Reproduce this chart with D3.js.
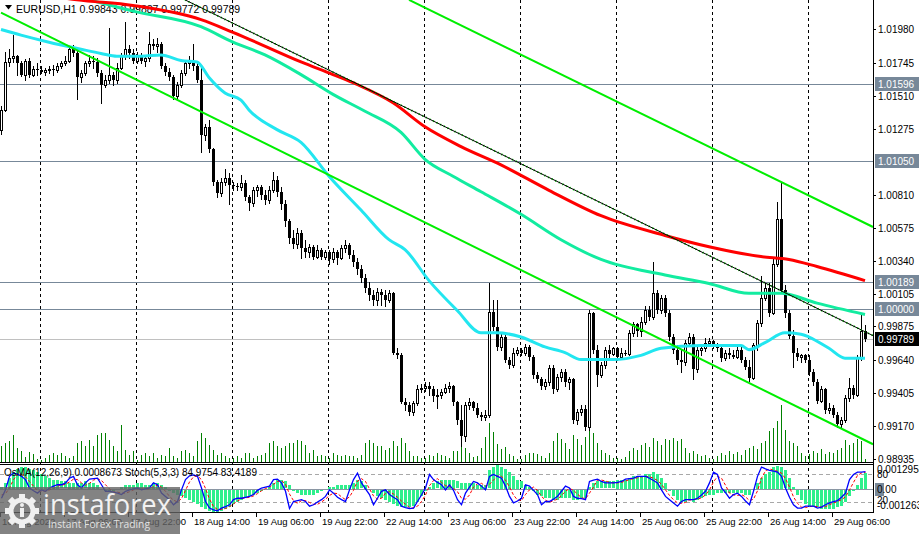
<!DOCTYPE html>
<html>
<head>
<meta charset="utf-8">
<script src="https://cdn.jsdelivr.net/npm/d3@7/dist/d3.min.js"></script>
<style>
  body { margin: 0; background: #fff; }
  svg { display: block; font-family: "Liberation Sans", Arial, sans-serif; }
</style>
</head>
<body>
<svg id="chart" width="919" height="534"></svg>
<script>
/* EURUSD H1, 16 Aug 14:00 .. 29 Aug 14:00 (bar 0 .. bar 216) */

var barOpen = [
  1.0127,1.0141,1.0175,1.0178,1.0179,1.0174,1.0166,1.0176,1.0166,1.0170,
  1.0169,1.0168,1.0169,1.0170,1.0169,1.0172,1.0174,1.0176,1.0184,1.0181,
  1.0164,1.0167,1.0174,1.0176,1.0175,1.0167,1.0159,1.0162,1.0166,1.0162,
  1.0171,1.0179,1.0184,1.0181,1.0176,1.0179,1.0176,1.0178,1.0188,1.0186,
  1.0188,1.0172,1.0168,1.0164,1.0151,1.0159,1.0167,1.0174,1.0176,1.0172,
  1.0162,1.0123,1.0129,1.0113,1.0090,1.0082,1.0090,1.0093,1.0088,1.0087,
  1.0086,1.0089,1.0079,1.0075,1.0084,1.0086,1.0081,1.0077,1.0084,1.0091,
  1.0083,1.0074,1.0062,1.0050,1.0046,1.0054,1.0043,1.0040,1.0044,1.0037,
  1.0042,1.0037,1.0040,1.0035,1.0040,1.0036,1.0043,1.0045,1.0038,1.0033,
  1.0028,1.0022,1.0015,1.0010,1.0006,1.0012,1.0010,1.0006,1.0011,0.9969,
  0.9967,0.9934,0.9932,0.9927,0.9933,0.9943,0.9944,0.9945,0.9943,0.9938,
  0.9939,0.9941,0.9944,0.9945,0.9934,0.9921,0.9910,0.9932,0.9934,0.9930,
  0.9925,0.9923,0.9925,0.9998,0.9987,0.9973,0.9980,0.9964,0.9960,0.9969,
  0.9971,0.9969,0.9973,0.9966,0.9953,0.9950,0.9945,0.9948,0.9958,0.9943,
  0.9952,0.9955,0.9948,0.9950,0.9921,0.9927,0.9929,0.9916,0.9997,0.9971,
  0.9953,0.9960,0.9971,0.9968,0.9972,0.9966,0.9969,0.9968,0.9983,0.9989,
  0.9984,0.9991,0.9999,0.9994,1.0011,0.9999,1.0008,0.9997,0.9980,0.9971,
  0.9964,0.9962,0.9976,0.9980,0.9957,0.9971,0.9972,0.9976,0.9977,0.9974,
  0.9972,0.9965,0.9969,0.9967,0.9966,0.9971,0.9964,0.9959,0.9951,0.9974,
  0.9990,1.0008,1.0015,0.9997,1.0032,1.0064,1.0013,0.9997,0.9981,0.9969,
  0.9966,0.9967,0.9964,0.9955,0.9948,0.9935,0.9943,0.9928,0.9930,0.9925,
  0.9918,0.9921,0.9937,0.9944,0.9939,0.9966,0.99843
]
var barHigh = [
  1.0144,1.0182,1.0184,1.0194,1.0180,1.0176,1.0177,1.0178,1.0172,1.0174,
  1.0172,1.0171,1.0172,1.0173,1.0174,1.0176,1.0179,1.0186,1.0187,1.0184,
  1.0169,1.0176,1.0180,1.0179,1.0178,1.0169,1.0166,1.0199,1.0168,1.0174,
  1.0181,1.0203,1.0187,1.0184,1.0182,1.0181,1.0180,1.0196,1.0191,1.0192,
  1.0189,1.0174,1.0171,1.0166,1.0161,1.0169,1.0176,1.0179,1.0188,1.0175,
  1.0173,1.0131,1.0134,1.0114,1.0091,1.0093,1.0099,1.0096,1.0090,1.0089,
  1.0095,1.0091,1.0081,1.0086,1.0088,1.0088,1.0084,1.0087,1.0097,1.0094,
  1.0086,1.0077,1.0064,1.0056,1.0057,1.0056,1.0049,1.0046,1.0045,1.0045,
  1.0043,1.0042,1.0042,1.0043,1.0042,1.0045,1.0049,1.0047,1.0042,1.0036,
  1.0031,1.0025,1.0019,1.0013,1.0015,1.0014,1.0013,1.0013,1.0012,0.9972,
  0.9969,0.9937,0.9934,0.9935,0.9946,0.9947,0.9948,0.9948,0.9945,0.9943,
  0.9943,0.9947,0.9948,0.9946,0.9935,0.9932,0.9934,0.9937,0.9935,0.9933,
  0.9927,0.9928,1.0018,1.0006,1.0006,0.9983,0.9982,0.9966,0.9972,0.9973,
  0.9972,0.9975,0.9974,0.9967,0.9955,0.9952,0.9950,0.9960,0.9960,0.9954,
  0.9957,0.9957,0.9952,0.9951,0.9929,0.9932,0.9932,0.9999,0.9998,0.9974,
  0.9962,0.9973,0.9974,0.9973,0.9973,0.9972,0.9971,0.9985,0.9991,0.9990,
  0.9994,1.0002,1.0002,1.0033,1.0013,1.0010,1.0010,0.9999,0.9982,0.9974,
  0.9971,0.9978,0.9983,0.9982,0.9973,0.9974,0.9979,0.9979,0.9978,0.9976,
  0.9973,0.9971,0.9972,0.9971,0.9973,0.9973,0.9966,0.9964,0.9976,0.9992,
  1.0023,1.0018,1.0018,1.0035,1.0076,1.0090,1.0017,0.9999,0.9985,0.9972,
  0.9968,0.9968,0.9967,0.9957,0.9950,0.9945,0.9944,0.9933,0.9932,0.9927,
  0.9923,0.9939,0.9951,0.9946,0.9967,0.9997,0.99887
]
var barLow = [
  1.0124,1.0140,1.0172,1.0175,1.0166,1.0165,1.0162,1.0164,1.0165,1.0166,
  1.0167,1.0166,1.0167,1.0166,1.0168,1.0171,1.0173,1.0175,1.0179,1.0149,
  1.0161,1.0166,1.0172,1.0171,1.0165,1.0146,1.0157,1.0160,1.0159,1.0160,
  1.0170,1.0177,1.0178,1.0174,1.0174,1.0174,1.0172,1.0176,1.0184,1.0182,
  1.0171,1.0166,1.0162,1.0149,1.0149,1.0157,1.0166,1.0171,1.0169,1.0161,
  1.0111,1.0120,1.0111,1.0088,1.0079,1.0080,1.0088,1.0074,1.0084,1.0084,
  1.0084,1.0077,1.0070,1.0073,1.0080,1.0078,1.0074,1.0075,1.0083,1.0080,
  1.0071,1.0059,1.0047,1.0043,1.0043,1.0036,1.0037,1.0037,1.0035,1.0036,
  1.0035,1.0035,1.0032,1.0033,1.0032,1.0035,1.0040,1.0036,1.0030,1.0025,
  1.0019,1.0012,1.0006,1.0003,1.0003,1.0003,1.0002,1.0005,0.9968,0.9965,
  0.9933,0.9928,0.9925,0.9925,0.9932,0.9941,0.9942,0.9939,0.9935,0.9930,
  0.9937,0.9940,0.9941,0.9932,0.9918,0.9903,0.9906,0.9929,0.9928,0.9923,
  0.9921,0.9921,0.9923,0.9985,0.9971,0.9971,0.9962,0.9958,0.9959,0.9967,
  0.9967,0.9967,0.9964,0.9951,0.9948,0.9943,0.9943,0.9946,0.9940,0.9942,
  0.9949,0.9945,0.9943,0.9919,0.9918,0.9925,0.9914,0.9914,0.9969,0.9945,
  0.9952,0.9958,0.9965,0.9967,0.9964,0.9965,0.9967,0.9967,0.9981,0.9981,
  0.9981,0.9989,0.9992,0.9993,0.9997,0.9997,0.9995,0.9978,0.9969,0.9961,
  0.9955,0.9960,0.9974,0.9950,0.9955,0.9967,0.9970,0.9974,0.9972,0.9970,
  0.9963,0.9964,0.9965,0.9965,0.9965,0.9962,0.9957,0.9949,0.9950,0.9971,
  0.9988,1.0006,0.9995,0.9996,1.0030,1.0011,0.9994,0.9979,0.9959,0.9964,
  0.9962,0.9962,0.9953,0.9946,0.9933,0.9934,0.9926,0.9926,0.9923,0.9916,
  0.9916,0.9920,0.9935,0.9937,0.9938,0.9964,0.99772
]
var barClose = [
  1.0141,1.0175,1.0178,1.0179,1.0174,1.0166,1.0176,1.0166,1.0170,1.0169,
  1.0168,1.0169,1.0170,1.0169,1.0172,1.0174,1.0176,1.0184,1.0181,1.0164,
  1.0167,1.0174,1.0176,1.0175,1.0167,1.0159,1.0162,1.0166,1.0162,1.0171,
  1.0179,1.0184,1.0181,1.0176,1.0179,1.0176,1.0178,1.0188,1.0186,1.0188,
  1.0172,1.0168,1.0164,1.0151,1.0159,1.0167,1.0174,1.0176,1.0172,1.0162,
  1.0123,1.0129,1.0113,1.0090,1.0082,1.0090,1.0093,1.0088,1.0087,1.0086,
  1.0089,1.0079,1.0075,1.0084,1.0086,1.0081,1.0077,1.0084,1.0091,1.0083,
  1.0074,1.0062,1.0050,1.0046,1.0054,1.0043,1.0040,1.0044,1.0037,1.0042,
  1.0037,1.0040,1.0035,1.0040,1.0036,1.0043,1.0045,1.0038,1.0033,1.0028,
  1.0022,1.0015,1.0010,1.0006,1.0012,1.0010,1.0006,1.0011,0.9969,0.9967,
  0.9934,0.9932,0.9927,0.9933,0.9943,0.9944,0.9945,0.9943,0.9938,0.9939,
  0.9941,0.9944,0.9945,0.9934,0.9921,0.9910,0.9932,0.9934,0.9930,0.9925,
  0.9923,0.9925,0.9998,0.9987,0.9973,0.9980,0.9964,0.9960,0.9969,0.9971,
  0.9969,0.9973,0.9966,0.9953,0.9950,0.9945,0.9948,0.9958,0.9943,0.9952,
  0.9955,0.9948,0.9950,0.9921,0.9927,0.9929,0.9916,0.9997,0.9971,0.9953,
  0.9960,0.9971,0.9968,0.9972,0.9966,0.9969,0.9968,0.9983,0.9989,0.9984,
  0.9991,0.9999,0.9994,1.0011,0.9999,1.0008,0.9997,0.9980,0.9971,0.9964,
  0.9962,0.9976,0.9980,0.9957,0.9971,0.9972,0.9976,0.9977,0.9974,0.9972,
  0.9965,0.9969,0.9967,0.9966,0.9971,0.9964,0.9959,0.9951,0.9974,0.9990,
  1.0008,1.0015,0.9997,1.0032,1.0064,1.0013,0.9997,0.9981,0.9969,0.9966,
  0.9967,0.9964,0.9955,0.9948,0.9935,0.9943,0.9928,0.9930,0.9925,0.9918,
  0.9921,0.9937,0.9944,0.9939,0.9966,0.9984,0.99789
]
// tick volume, hundreds of ticks
var tickVolume = [
  17,20,22,28,15,12,6,11,9,4,
  3,5,8,10,8,10,7,5,7,20,22,17,23,17,28,30,30,23,17,12,38,13,8,12,
  3,8,10,7,10,5,8,7,15,7,5,12,13,10,7,22,30,25,18,13,8,10,7,5,
  5,7,5,10,10,5,7,8,10,20,22,17,15,17,20,20,23,22,18,10,13,7,8,7,
  5,10,8,7,8,7,7,5,8,20,23,20,17,17,13,15,22,17,25,20,12,7,7,5,
  5,8,7,10,8,7,5,12,12,28,15,10,6,7,15,26,40,31,19,14,16,9,7,4,
  4,8,10,10,9,7,5,10,22,30,24,20,14,28,24,18,26,37,30,20,13,10,8,5,
  5,4,6,12,15,13,18,20,16,25,22,18,24,23,25,22,24,15,10,12,9,7,8,5,
  4,7,10,8,12,9,11,8,13,15,17,14,20,22,32,35,42,58,33,22,20,17,10,7,
  9,12,10,14,9,11,10,13,15,23,18,20,24,22,4
]
// OsMA(12,26,9), in units of 0.0001
var osma = [
  1,3,6,9,11,12,12,11,10,9,
  8,7,6,5,5,4,4,3,3,3,
  3,4,3,3,2,0,-1,-1,-1,0,
  1,2,2,2,3,3,2,2,3,3,
  2,1,-1,-2,-3,-4,-5,-6,-7,-8,
  -10,-11,-12,-12.6,-12.63,-12,-11,-10,-8,-7,
  -6,-5,-4,-3,-2,-1,0,1,3,5,
  5,4,2,-1,-2,-3,-3,-3,-3,-2,
  -1,0,1,1,2,2,2,2,3,5,
  4,2,0,-2,-4,-5,-6,-7,-8,-9,
  -10,-10,-10,-9,-7,-4,-1,1,3,4,
  5,5,5,5,4,3,3,3,3,2,
  2,2,10,12,12.953,12,11,9,7,5,
  4,2,1,-1,-3,-4,-5,-5,-6,-6,
  -5,-5,-5,-6,-6,-5,-5,1,3,4,
  4,4,4,4,5,5,5,6,7,7,
  7,8,8,9,8,6,3,-1,-4,-6,
  -7,-7,-6,-7,-6,-5,-4,-3,-3,-2,
  -2,-2,-2,-2,-2,-2,-3,-3,0,3,
  6,8,9,12,12.5,12,10,6,1,-3,
  -6,-8,-9,-10,-10,-11,-11,-11,-11,-10,
  -9,-7,-4,-1,2,6,8.673
]
var stochMain = [
  28,46,75,82,80,75,68,50,44,39,
  46,43,50,54,57,57,61,71,75,57,
  50,61,69,70,71,57,43,43,41,39,
  36,43,46,48,50,46,48,50,61,57,
  39,32,25,14,21,46,68,76,78,75,
  50,21,7,3,1,7,10,14,25,28,
  28,30,32,36,45,50,52,54,68,69,
  61,43,6,21,23,25,21,11,14,20,
  25,32,46,39,30,25,21,46,68,82,
  61,48,36,14,28,43,46,36,30,25,
  11,8,6,7,21,35,50,79,68,62,
  57,46,57,45,25,14,39,52,64,61,
  54,46,75,79,75,71,54,32,18,22,
  28,57,54,45,36,14,21,21,26,32,
  43,54,50,32,28,27,25,64,67,69,
  64,61,61,61,62,64,69,70,71,75,
  75,75,71,66,61,46,32,25,18,11,
  21,25,25,25,28,35,43,61,84,79,
  50,40,28,36,39,32,22,14,43,75,
  95,91,88,86,84,75,50,30,14,7,
  7,11,11,11,7,9,14,18,21,23,
  30,39,68,79,84,84,84.9754
]
var stochSignal = [
  35,38,50,68,79,79,74,64,54,44,
  43,43,46,49,54,56,58,63,69,68,
  61,56,60,67,70,66,57,48,42,41,
  39,39,42,46,48,48,48,48,53,56,
  52,43,32,24,20,27,45,63,74,76,
  68,49,26,10,4,4,6,10,16,22,
  27,29,30,33,38,44,49,52,58,64,
  66,58,37,23,17,23,23,19,15,15,
  20,26,34,39,38,31,25,31,45,65,
  70,64,48,33,26,28,39,42,37,30,
  22,15,8,7,11,21,35,55,66,70,
  62,55,53,49,42,28,26,35,52,59,
  60,54,58,67,76,75,67,52,35,24,
  23,36,46,52,45,32,24,19,23,26,
  34,43,49,45,37,29,27,39,52,67,
  67,65,62,61,61,62,65,68,70,72,
  74,75,74,71,66,58,46,34,25,18,
  17,19,24,25,26,29,35,46,63,75,
  71,56,39,35,34,36,31,23,26,44,
  71,87,91,88,86,82,70,52,31,17,
  9,8,10,11,10,9,10,14,18,21,
  25,31,46,62,77,82,83.4189
]

/* moving averages: [bar, price] */
var maRed = [[0,1.0228],[19,1.0219],[33,1.0215],[50,1.0205],[58,1.0196],[75,1.0175],[83,1.0166],
  [89,1.0159],[98,1.0146],[106,1.0129],[115,1.0115],[125,1.0102],[137,1.0084],[150,1.0066],
  [166,1.0052],[177,1.0044],[190,1.0037],[197,1.0035],[204,1.0030],[216,1.0020]]
var maTeal = [[0,1.0232],[22,1.0219],[33,1.0211],[50,1.0200],[58,1.0189],[66,1.0180],[75,1.0166],
  [83,1.0152],[91,1.0140],[100,1.0125],[106,1.0106],[113,1.0094],[120,1.0083],[130,1.0067],
  [140,1.0049],[150,1.0035],[166,1.0024],[177,1.0018],[187,1.0011],[195,1.0011],[204,1.0004],[216,0.9996]]
var maCyan = [[0,1.0198],[5,1.0194],[12,1.0189],[20,1.0184],[25,1.0181],[29,1.0179],[35,1.0179],
  [40,1.0180],[45,1.0176],[49,1.0175],[52,1.0164],[56,1.0153],[60,1.0148],[62,1.0141],[69,1.0127],
  [75,1.0118],[82,1.0094],[90,1.0070],[97,1.0049],[101,1.0042],[107,1.0020],[114,0.9999],
  [120,0.9983],[124,0.9983],[130,0.9980],[136,0.9973],[141,0.9969],[145,0.9964],[153,0.9964],
  [160,0.9967],[165,0.9972],[175,0.9974],[185,0.9974],[187,0.9971],[191,0.9976],[196,0.9983],
  [200,0.9982],[202,0.9980],[207,0.9972],[211,0.9965],[216,0.9965]]

/* drawn objects */
var channelLines = [[[102,1.0219],[218,1.0058]], [[0,1.0210],[218,0.9904]]]
var thinTrend = [[46,1.0219],[218,0.9981]]
var levelPrices = [1.01596, 1.01050, 1.00189, 1.00000]
var bidPrice = 0.99789
var priceTicks = [1.01980,1.01745,1.01510,1.01275,1.00810,1.00575,1.00340,1.00105,0.99875,0.99640,0.99405,0.99170,0.98935]
var dayStarts = [10,34,58,82,106,130,154,178,202]
var timeLabels = [[0,"16 Aug 2022"],[16,"17 Aug 06:00"],[32,"17 Aug 22:00"],[48,"18 Aug 14:00"],
  [64,"19 Aug 06:00"],[80,"19 Aug 22:00"],[96,"22 Aug 14:00"],[112,"23 Aug 06:00"],
  [128,"23 Aug 22:00"],[144,"24 Aug 14:00"],[160,"25 Aug 06:00"],[176,"25 Aug 22:00"],
  [192,"26 Aug 14:00"],[208,"29 Aug 06:00"]]

/* layout */
var W = 919, H = 534
var plotRight = 873
var mainBottom = 463
var subTop = 465, subBottom = 512

var x = d3.scaleLinear().domain([0, 216]).range([1, 865])
var y = d3.scaleLinear().domain([0.98907, 1.02189]).range([mainBottom, 0])
var volH = d3.scaleLinear().domain([0, 62]).range([0, 62])
var osY = d3.scaleLinear().domain([-12.63, 12.953]).range([subBottom, subTop])
var stY = d3.scaleLinear().domain([0, 100]).range([511.3, 464.7])

function px(v) { return Math.round(v) + 0.5 }

var svg = d3.select("#chart")
svg.append("rect").attr("width", W).attr("height", H).attr("fill", "#fff")

var defs = svg.append("defs")
defs.append("clipPath").attr("id", "mainClip").append("rect")
  .attr("x", 0).attr("y", 0).attr("width", plotRight).attr("height", mainBottom)
defs.append("clipPath").attr("id", "subClip").append("rect")
  .attr("x", 0).attr("y", subTop).attr("width", plotRight).attr("height", subBottom - subTop)

var bars = barClose.map(function(c, i) {
  return { i: i, o: barOpen[i], h: barHigh[i], l: barLow[i], c: c, v: tickVolume[i] }
})

/* day separators, both windows */
svg.selectAll(".daySep").data(dayStarts).enter().append("line")
  .attr("x1", function(d) { return px(x(d)) - 1 })
  .attr("x2", function(d) { return px(x(d)) - 1 })
  .attr("y1", 0).attr("y2", subBottom)
  .attr("stroke", "#000").attr("stroke-dasharray", "3,3")

/* title (drawn under the lines) */
svg.append("path").attr("d", "M5,5 L12,5 L8.5,9.5 Z").attr("fill", "#000")
svg.append("text").attr("x", 16).attr("y", 13).attr("font-size", 10.5).attr("fill", "#000")
  .text("EURUSD,H1  0.99843 0.99887 0.99772 0.99789")

var main = svg.append("g").attr("clip-path", "url(#mainClip)")

/* volumes */
main.selectAll(".vol").data(bars).enter().append("line")
  .attr("x1", function(d) { return px(x(d.i)) })
  .attr("x2", function(d) { return px(x(d.i)) })
  .attr("y1", mainBottom)
  .attr("y2", function(d) { return mainBottom - Math.round(volH(d.v)) })
  .attr("stroke", "#008000")

/* price levels */
main.selectAll(".level").data(levelPrices).enter().append("line")
  .attr("x1", 0).attr("x2", plotRight)
  .attr("y1", function(d) { return px(y(d)) }).attr("y2", function(d) { return px(y(d)) })
  .attr("stroke", "#778899")
main.append("line").attr("x1", 0).attr("x2", plotRight)
  .attr("y1", px(y(bidPrice))).attr("y2", px(y(bidPrice)))
  .attr("stroke", "#c0c0c0")

/* candles */
main.selectAll(".wick").data(bars).enter().append("line")
  .attr("x1", function(d) { return px(x(d.i)) })
  .attr("x2", function(d) { return px(x(d.i)) })
  .attr("y1", function(d) { return Math.round(y(d.h)) })
  .attr("y2", function(d) { return Math.round(y(d.l)) + 1 })
  .attr("stroke", "#000")

main.selectAll(".body").data(bars).enter().append("rect")
  .attr("x", function(d) { return d.c < d.o ? Math.round(x(d.i)) - 1 : Math.round(x(d.i)) - 0.5 })
  .attr("width", function(d) { return d.c < d.o ? 3 : 2 })
  .attr("y", function(d) {
    var t = Math.round(y(Math.max(d.o, d.c)))
    return d.c < d.o ? t : t + 0.5
  })
  .attr("height", function(d) {
    var h = Math.round(y(Math.min(d.o, d.c))) - Math.round(y(Math.max(d.o, d.c)))
    return d.c < d.o ? Math.max(1, h) : Math.max(0, h)
  })
  .attr("fill", function(d) { return d.c < d.o ? "#000" : "#fff" })
  .attr("stroke", function(d) { return d.c < d.o ? "none" : "#000" })

/* moving averages */
var maLine = d3.line()
  .x(function(d) { return x(d[0]) })
  .y(function(d) { return y(d[1]) })
  .curve(d3.curveMonotoneX)

main.append("path").datum(maCyan).attr("d", maLine)
  .attr("fill", "none").attr("stroke", "#22e6f0").attr("stroke-width", 3)
main.append("path").datum(maTeal).attr("d", maLine)
  .attr("fill", "none").attr("stroke", "#12eca0").attr("stroke-width", 3)
main.append("path").datum(maRed).attr("d", maLine)
  .attr("fill", "none").attr("stroke", "#ff0000").attr("stroke-width", 3)

/* trend lines */
var straight = d3.line()
  .x(function(d) { return x(d[0]) })
  .y(function(d) { return y(d[1]) })

main.selectAll(".channel").data(channelLines).enter().append("path")
  .attr("d", straight)
  .attr("fill", "none").attr("stroke", "#00ee00").attr("stroke-width", 2)
main.append("path").datum(thinTrend).attr("d", straight)
  .attr("fill", "none").attr("stroke", "#00ee00").attr("stroke-width", 2)
  .attr("stroke-dasharray", "1,3")
main.append("path").datum(thinTrend).attr("d", straight)
  .attr("fill", "none").attr("stroke", "#000").attr("stroke-width", 1)

/* oscillator window */
var sub = svg.append("g").attr("clip-path", "url(#subClip)")

sub.selectAll(".stLevel").data([80, 20]).enter().append("line")
  .attr("x1", 0).attr("x2", plotRight)
  .attr("y1", function(d) { return px(stY(d)) }).attr("y2", function(d) { return px(stY(d)) })
  .attr("stroke", "#a8a8a8").attr("stroke-dasharray", "4,3")

sub.selectAll(".hist").data(osma).enter().append("rect")
  .attr("x", function(d, i) { return Math.round(x(i)) - 1 })
  .attr("width", 3)
  .attr("y", function(d) { return Math.round(Math.min(osY(d), osY(0))) })
  .attr("height", function(d) { return Math.round(Math.abs(osY(d) - osY(0))) })
  .attr("fill", "#2ef08c")

sub.append("line").attr("x1", 0).attr("x2", plotRight)
  .attr("y1", px(osY(0))).attr("y2", px(osY(0)))
  .attr("stroke", "#8a96a3")

var stLine = d3.line()
  .x(function(d, i) { return x(i) + 0.5 })
  .y(function(d) { return stY(d) })

sub.append("path").datum(stochSignal).attr("d", stLine)
  .attr("fill", "none").attr("stroke", "#ff0000").attr("stroke-width", 1)
  .attr("stroke-dasharray", "3,2")
sub.append("path").datum(stochMain).attr("d", stLine)
  .attr("fill", "none").attr("stroke", "#0000ff").attr("stroke-width", 1.3)

svg.append("text").attr("x", 4).attr("y", 476).attr("font-size", 10).attr("fill", "#000")
  .text("OsMA(12,26,9) 0.0008673  Stoch(5,3,3) 84.9754 83.4189")

/* window frames */
svg.append("line").attr("x1", 0).attr("x2", plotRight).attr("y1", 462.5).attr("y2", 462.5).attr("stroke", "#000")
svg.append("line").attr("x1", 0).attr("x2", plotRight).attr("y1", 464.5).attr("y2", 464.5).attr("stroke", "#000")
svg.append("line").attr("x1", 0).attr("x2", plotRight).attr("y1", 512.5).attr("y2", 512.5).attr("stroke", "#000")
svg.append("line").attr("x1", plotRight + 0.5).attr("x2", plotRight + 0.5).attr("y1", 0).attr("y2", 513).attr("stroke", "#000")

/* price axis */
var axisX = plotRight + 5
svg.selectAll(".pTick").data(priceTicks).enter().append("line")
  .attr("x1", plotRight).attr("x2", plotRight + 3)
  .attr("y1", function(d) { return px(y(d)) }).attr("y2", function(d) { return px(y(d)) })
  .attr("stroke", "#000")
svg.selectAll(".pLabel").data(priceTicks).enter().append("text")
  .attr("x", axisX).attr("y", function(d) { return Math.round(y(d)) + 4 })
  .attr("font-size", 10).attr("fill", "#000")
  .text(function(d) { return d.toFixed(5) })

var levelTags = svg.selectAll(".lvTag").data(levelPrices).enter().append("g")
levelTags.append("rect")
  .attr("x", plotRight + 2).attr("y", function(d) { return Math.round(y(d)) - 7 })
  .attr("width", 50).attr("height", 14).attr("fill", "#778899")
levelTags.append("text")
  .attr("x", axisX).attr("y", function(d) { return Math.round(y(d)) + 4 })
  .attr("font-size", 10).attr("fill", "#fff")
  .text(function(d) { return d.toFixed(5) })

svg.append("rect").attr("x", plotRight + 2).attr("y", Math.round(y(bidPrice)) - 7)
  .attr("width", 50).attr("height", 14).attr("fill", "#000")
svg.append("text").attr("x", axisX).attr("y", Math.round(y(bidPrice)) + 4)
  .attr("font-size", 10).attr("fill", "#fff").text(bidPrice.toFixed(5))

/* oscillator axis */
svg.append("rect").attr("x", plotRight + 2).attr("y", Math.round(osY(0)) - 6)
  .attr("width", 9).attr("height", 13).attr("fill", "#778899")
var subLabels = [
  [osY(12.953) + 8, "0.0012953"], [stY(80) + 4, "80"], [osY(0) + 4, "0.00"],
  [stY(20) + 2, "20"], [osY(-12.63) - 3, "-0.001263"]
]
svg.selectAll(".sLabel").data(subLabels).enter().append("text")
  .attr("x", axisX - 1).attr("y", function(d) { return d[0] })
  .attr("font-size", 10).attr("fill", "#000")
  .text(function(d) { return d[1] })

/* time axis */
svg.selectAll(".tTick").data(timeLabels).enter().append("line")
  .attr("x1", function(d) { return px(x(d[0])) - 1 })
  .attr("x2", function(d) { return px(x(d[0])) - 1 })
  .attr("y1", 513).attr("y2", 517).attr("stroke", "#000")
svg.selectAll(".tLabel").data(timeLabels).enter().append("text")
  .attr("x", function(d) { return Math.round(x(d[0])) + 1 })
  .attr("y", 525).attr("font-size", 9.5).attr("fill", "#000")
  .text(function(d) { return d[1] })

/* watermark */
var wm = svg.append("g")
wm.append("rect").attr("x", 0).attr("y", 487).attr("width", 180).attr("height", 47)
  .attr("fill", "#646464").attr("opacity", 0.8)
var gear = wm.append("g").attr("transform", "translate(22,511)")
gear.selectAll(".tooth").data(d3.range(8)).enter().append("rect")
  .attr("x", -3).attr("y", -17).attr("width", 6).attr("height", 7)
  .attr("fill", "#f0f0f0")
  .attr("transform", function(d) { return "rotate(" + d * 45 + ")" })
gear.append("circle").attr("r", 11).attr("fill", "none").attr("stroke", "#f0f0f0").attr("stroke-width", 5)
gear.append("rect").attr("x", -2).attr("y", -3).attr("width", 4).attr("height", 9).attr("fill", "#f0f0f0")
gear.append("circle").attr("cy", -6).attr("r", 2).attr("fill", "#f0f0f0")
wm.append("text").attr("x", 43).attr("y", 515)
  .attr("font-family", "'Open Sans', sans-serif").attr("font-size", 29).attr("fill", "#f2f2f2")
  .attr("textLength", 128).attr("lengthAdjust", "spacingAndGlyphs")
  .text("instaforex")
wm.append("text").attr("x", 48).attr("y", 528)
  .attr("font-family", "'Open Sans', sans-serif").attr("font-size", 11.5).attr("fill", "#e2e2e2")
  .attr("textLength", 102).attr("lengthAdjust", "spacingAndGlyphs")
  .text("Instant Forex Trading")
</script>
</body>
</html>
